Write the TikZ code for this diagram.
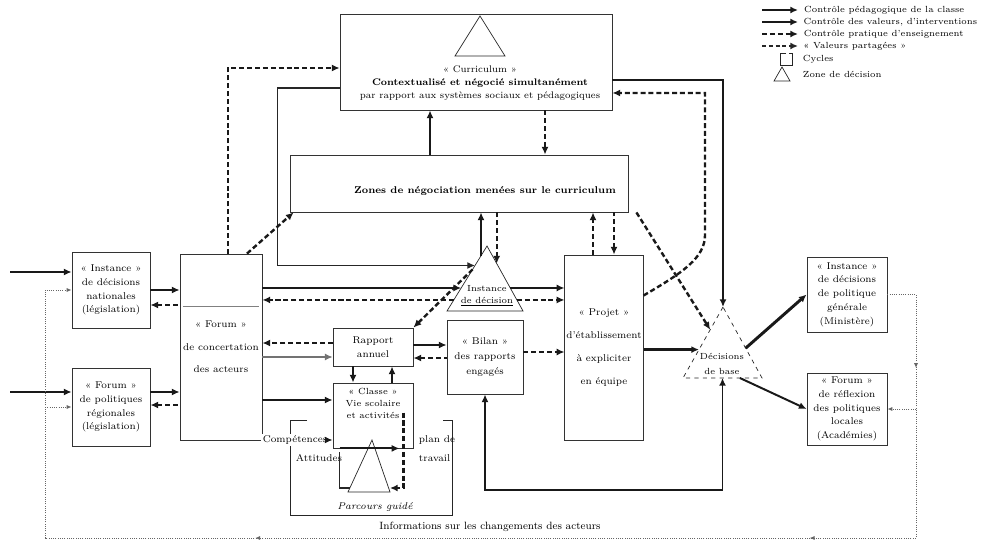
\documentclass[tikz,border=0pt]{standalone}
\usepackage{fontspec}
\usetikzlibrary{arrows.meta,calc,decorations.markings}
\newcommand{\boxfont}{\fontsize{7}{9.8}\selectfont}
\newcommand{\legfont}{\fontsize{6.3}{7}\selectfont}
\tikzset{
  box/.style 2 args={draw=black!80, line width=0.6pt, inner sep=1pt, align=center,
    font=\boxfont, minimum width=#1*0.025cm, minimum height=#2*0.025cm},
  zone/.style={draw=black!85, line width=0.5pt},
  fmain/.style={line width=2.1pt, black!90},
  fsub/.style={line width=1.4pt, black!90},
  fline/.style={line width=0.8pt, black!85},
  fdash/.style={line width=1.7pt, black!90, dash pattern=on 3.6pt off 2pt},
  fval/.style={line width=1.1pt, black!85, dash pattern=on 3pt off 1.8pt},
  info/.style={line width=0.7pt, black!60, dash pattern=on 0.7pt off 0.9pt},
  >={Latex[length=5.5pt,width=5pt]}
}
\begin{document}
\begin{tikzpicture}[x=0.025cm,y=-0.025cm]
\useasboundingbox (0,0) rectangle (983,543);

% curriculum
\node[box={272}{96}] (curric) at (476,62) {};
\draw[zone] (480,16) -- (455,56) -- (505,56) -- cycle;
\node[font=\fontsize{6.8}{9.5}\selectfont, align=center] (currtxt) at (480,83)
  {« Curriculum »\\ \textbf{Contextualisé et négocié simultanément}\\ par rapport aux systèmes sociaux et pédagogiques};

% negotiation band
\node[box={338}{57}] (nego) at (459,183.5) {};
\node[font=\fontsize{7}{8}\selectfont\bfseries] (negotxt) at (485,191) {Zones de négociation menées sur le curriculum};

% legend
\coordinate (lg1) at (762,10);
\coordinate (lg2) at (762,22);
\coordinate (lg3) at (762,34);
\coordinate (lg4) at (762,46);
\draw[fmain,->] (lg1) -- ++(36,0) node[right, font=\legfont, black] (lgt1) {Contrôle pédagogique de la classe};
\draw[fsub,->] (lg2) -- ++(36,0) node[right, font=\legfont, black] (lgt2) {Contrôle des valeurs, d'interventions};
\draw[fdash,->] (lg3) -- ++(36,0) node[right, font=\legfont, black] (lgt3) {Contrôle pratique d'enseignement};
\draw[fval,->] (lg4) -- ++(36,0) node[right, font=\legfont, black] (lgt4) {« Valeurs partagées »};
\draw[zone] (786,53) -- (780,53) -- (780,65) -- (792,65) -- (792,53) -- (789,53);
\node[right, font=\legfont] (lgt5) at (798,59) {Cycles};
\draw[zone] (782,67) -- (774,81) -- (790,81) -- cycle;
\node[right, font=\legfont] (lgt6) at (798,74) {Zone de décision};

% boxes
\node[box={78}{76}] (instnat) at (111,290) {« Instance »\\ de décisions\\ nationales\\ (législation)};
\node[box={78}{78}] (forreg) at (111,407) {« Forum »\\ de politiques\\ régionales\\ (législation)};
\node[box={82}{186}, font=\fontsize{7}{16}\selectfont] (forum) at (221,347) {« Forum »\\ de concertation\\ des acteurs};
\draw[black!50, line width=0.4pt] ($(forum.north west)+(3,53)$) -- ($(forum.north east)+(-3,53)$);
\node[box={80}{38}] (rapport) at (373,347) {Rapport\\ annuel};
\node[box={76}{74}, font=\fontsize{7}{10.7}\selectfont] (bilan) at (485,357) {« Bilan »\\ des rapports\\ engagés};
\node[box={76}{185}, font=\fontsize{7}{16.5}\selectfont] (projet) at (604,347.5) {« Projet »\\ d'établissement\\ à expliciter\\ en équipe};
\node[box={80}{75}] (instgen) at (847,294.5) {« Instance »\\ de décisions\\ de politique\\ générale\\ (Ministère)};
\node[box={80}{72}] (forloc) at (847,409) {« Forum »\\ de réflexion\\ des politiques\\ locales\\ (Académies)};

% decision zones
\coordinate (tdA) at (487,246);
\coordinate (tdL) at (447,311);
\coordinate (tdR) at (523,311);
\draw[zone] (tdA) -- (tdL) -- (tdR) -- cycle;
\node[font=\fontsize{6.3}{8.5}\selectfont, align=center] (tdtxt) at (487,296) {Instance\\ \underline{de décision}};
\coordinate (trA) at (723,307);
\coordinate (trL) at (683,378);
\coordinate (trR) at (762,378);
\draw[zone, dashed] (trA) -- (trL) -- (trR) -- cycle;
\node[font=\fontsize{6.3}{10.5}\selectfont, align=center] (trtxt) at (722,364) {Décisions\\ de base};

% class and cycle
\node[box={80}{65}] (classe) at (373,415.5) {};
\node[font=\fontsize{6.3}{8.5}\selectfont, align=center] (classetxt) at (373,403) {« Classe »\\ Vie scolaire\\ et activités};
\coordinate (tpA) at (372,440);
\coordinate (tpL) at (348,492);
\coordinate (tpR) at (390,492);
\draw[zone] (tpA) -- (tpL) -- (tpR) -- cycle;
\draw[zone] (307,420) -- (290,420) -- (290,515) -- (452,515) -- (452,420) -- (443,420);
\node[font=\boxfont, anchor=east, fill=white, inner sep=1pt] (lcomp) at (329,440) {Compétences};
\node[font=\boxfont] (latt) at (319,458) {Attitudes};
\node[font=\boxfont, anchor=west] (lplan) at (414,440) {plan de};
\node[font=\boxfont, anchor=west] (ltrav) at (414,458) {travail};
\node[font=\fontsize{7}{8}\selectfont\itshape] (lparc) at (375,507) {Parcours guidé};
\draw[fsub,->] (lcomp) -- (lcomp -| classe.west);
\draw[fsub,->] ($(classe.south west)+(7,0)$) -- ($(classe.south east)+(-14,0)$);
\draw[fdash,->] ($(classe.north east)+(-10,30)$) |- ($(tpR)+(0,-4)$);
\draw[fline] ($(classe.south west)+(7,4)$) |- ($(tpL)+(2,-4)$);

% inputs
\coordinate (srcA) at (10,272);
\coordinate (srcB) at (10,392);
\draw[fmain,->] (srcA) -- (srcA -| instnat.west);
\draw[fmain,->] (srcB) -- (srcB -| forreg.west);

% left boxes and forum
\draw[fmain,->] (instnat.east) -- (instnat.east -| forum.west);
\draw[fdash,<-] ($(instnat.east)+(0,15)$) coordinate (p1) -- (p1 -| forum.west);
\draw[fmain,->] ($(forreg.east)+(0,-15)$) coordinate (p2) -- (p2 -| forum.west);
\draw[fdash,<-] ($(forreg.east)+(0,-2)$) coordinate (p3) -- (p3 -| forum.west);

% forum, decision zone, projet
\coordinate (tdin) at ($(tdA)!0.646!(tdL)$);
\coordinate (tdout) at ($(tdA)!0.646!(tdR)$);
\coordinate (tdin2) at ($(tdA)!0.83!(tdL)$);
\coordinate (tdout2) at ($(tdA)!0.83!(tdR)$);
\draw[fmain,->] (forum.east |- tdin) -- (tdin);
\draw[fmain,->] (tdout) -- (tdout -| projet.west);
\draw[fdash,->] (tdin2) -- (tdin2 -| forum.east);
\draw[fdash,->] (tdout2) -- (tdout2 -| projet.west);

% curriculum links
\draw[fdash,->] ($(forum.north)+(7,0)$) |- ($(curric.west)+(0,6)$);
\draw[fline,->] ($(curric.west)+(0,26)$) -- ++(-62,0) |- ($(tdA)!0.3!(tdL)$);
\draw[fdash,->] ($(forum.north)+(26,0)$) -- ($(nego.south west)+(4,0)$);
\draw[fmain,->] ($(nego.north)+(-29,0)$) coordinate (p6) -- (p6 |- curric.south);
\draw[fdash,->] ($(curric.south)+(69,0)$) coordinate (p7) -- (p7 |- nego.north);
\draw[fsub,->] ($(tdA)!0.15!(tdL)$) coordinate (p8) -- (p8 |- nego.south);
\draw[fdash,<-] ($(tdA)!0.27!(tdR)$) coordinate (p9) -- (p9 |- nego.south);
\draw[fdash,->] ($(projet.north)+(-11,0)$) coordinate (p10) -- (p10 |- nego.south);
\draw[fdash,<-] ($(projet.north)+(10,0)$) coordinate (p11) -- (p11 |- nego.south);

% rapport, bilan
\draw[fdash,->] ($(rapport.west)+(0,-4)$) coordinate (p12) -- (p12 -| forum.east);
\draw[fline, black!55, ->] ($(forum.east)+(0,10)$) coordinate (p13) -- (p13 -| rapport.west);
\draw[fsub,->] ($(forum.east)+(0,53)$) coordinate (p14) -- (p14 -| classe.west);
\draw[fsub,->] ($(rapport.east)+(0,-2)$) coordinate (p15) -- (p15 -| bilan.west);
\draw[fdash,<-] ($(rapport.east)+(0,11)$) coordinate (p16) -- (p16 -| bilan.west);
\draw[fdash,->] ($(bilan.east)+(0,-5)$) coordinate (p17) -- (p17 -| projet.west);
\draw[fdash,->] ($(tdA)!0.36!(tdL)$) -- (rapport.north east);
\draw[fsub,->] ($(rapport.south)+(-20,0)$) coordinate (p18) -- (p18 |- classe.north);
\draw[fmain,->] ($(classe.north)+(19,0)$) coordinate (p19) -- (p19 |- rapport.south);

% lower loop
\coordinate (loopM) at (565,490);
\draw[fsub,<->] (bilan.south) |- (loopM) -| ($(trL)!0.5!(trR)$);

% projet, decision, policy boxes
\coordinate (trin) at ($(trA)!0.6!(trL)$);
\draw[fmain,->] (projet.east |- trin) -- (trin);
\draw[fmain,->] ($(trA)!0.58!(trR)$) -- (instgen.west);
\draw[fsub,->] ($(trL)!0.72!(trR)$) -- (forloc.west);
\draw[fsub,->] ($(curric.east)+(0,18)$) -| (trA);
\coordinate (dashC) at (705,235);
\draw[fdash,->] ($(projet.east)+(0,-52)$) .. controls (682,273) and (705,258) .. (dashC) |- ($(curric.east)+(0,31)$);
\draw[fdash,->] ($(nego.south east)+(8,0)$) -- ($(trA)!0.32!(trL)$);

% information loop
\coordinate (infoSE) at (916,538);
\coordinate (infoSW) at (45,538);
\draw[info, -{Latex[length=3.5pt,width=3pt]}, postaction={decorate},
  decoration={markings,
    mark=at position 0.072 with {\arrow{Latex[length=3.5pt,width=3pt]}},
    mark=at position 0.267 with {\arrow{Latex[length=3.5pt,width=3pt]}},
    mark=at position 0.658 with {\arrow{Latex[length=3.5pt,width=3pt]}}}]
  (instgen.east) -| (infoSE) -- (infoSW) |- (instnat.west);
\draw[info, -{Latex[length=3.5pt,width=3pt]}] (infoSE |- forloc.east) -- (forloc.east);
\draw[info, -{Latex[length=3.5pt,width=3pt]}] (infoSW |- forreg.west) -- (forreg.west);
\node[font=\fontsize{7.5}{8}\selectfont] (infotxt) at (490,527) {Informations sur les changements des acteurs};
\end{tikzpicture}
\end{document}
